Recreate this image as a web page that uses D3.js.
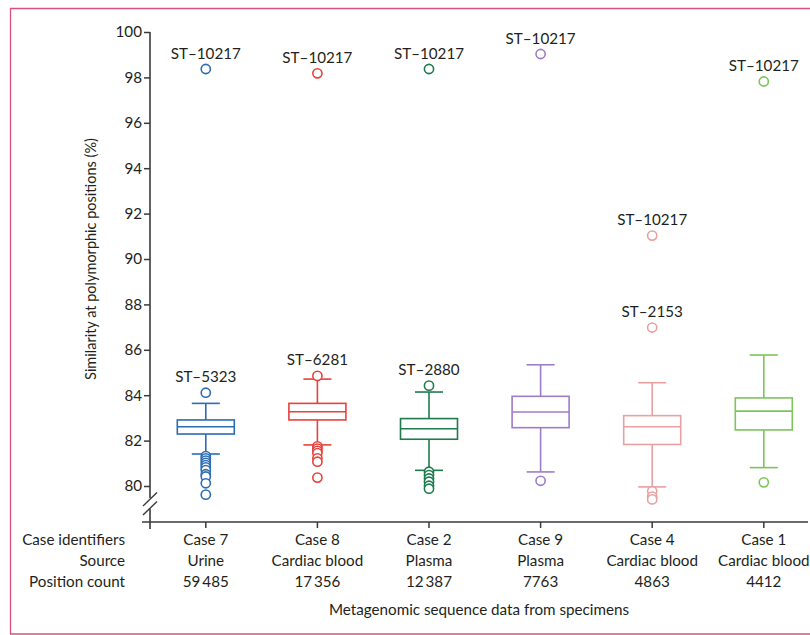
<!DOCTYPE html>
<html>
<head>
<meta charset="utf-8">
<script src="https://cdn.jsdelivr.net/npm/d3@7"></script>
<style>
  html, body { margin: 0; padding: 0; background: #fff; }
  svg { display: block; }
  text { font-family: Lato, "Noto Sans", sans-serif; fill: #231f20; }
</style>
</head>
<body>
<svg id="chart" width="810" height="635"></svg>
<script>
// ---- data ----
const cases = ["Case 7", "Case 8", "Case 2", "Case 9", "Case 4", "Case 1"];
const sources = ["Urine", "Cardiac blood", "Plasma", "Plasma", "Cardiac blood", "Cardiac blood"];
const counts = ["59\u2009485", "17\u2009356", "12\u2009387", "7763", "4863", "4412"];
const q1 = [82.29, 82.91, 82.06, 82.57, 81.83, 82.47];
const medians = [82.61, 83.27, 82.52, 83.26, 82.61, 83.30];
const q3 = [82.91, 83.64, 82.97, 83.95, 83.10, 83.88];
const whiskerLow = [81.41, 81.81, 80.69, 80.62, 79.96, 80.81];
const whiskerHigh = [83.64, 84.71, 84.14, 85.34, 84.55, 85.77];
const outliers = [
  [98.37, 84.11, 81.32, 81.22, 81.12, 81.02, 80.92, 80.82, 80.7, 80.52, 80.42, 80.12, 79.62],
  [98.18, 84.85, 81.75, 81.65, 81.55, 81.45, 81.22, 81.07, 80.37],
  [98.37, 84.42, 80.63, 80.48, 80.33, 80.19, 80.01, 79.88],
  [99.03, 80.23],
  [91.03, 86.98, 79.77, 79.53, 79.41],
  [97.82, 80.16]
];
const outlierLabels = [
  [{v: 98.37, t: "ST\u201310217"}, {v: 84.11, t: "ST\u20135323"}],
  [{v: 98.18, t: "ST\u201310217"}, {v: 84.85, t: "ST\u20136281"}],
  [{v: 98.37, t: "ST\u201310217"}, {v: 84.42, t: "ST\u20132880"}],
  [{v: 99.03, t: "ST\u201310217"}],
  [{v: 91.03, t: "ST\u201310217"}, {v: 86.98, t: "ST\u20132153"}],
  [{v: 97.82, t: "ST\u201310217"}]
];
const yTicks = [80, 82, 84, 86, 88, 90, 92, 94, 96, 98, 100];
const rowLabels = ["Case identifiers", "Source", "Position count"];

// ---- style ----
const colors = ["#2c6cb2", "#e8413b", "#1f7b4c", "#9f7cc6", "#e8a0a1", "#7dc55a"];
const fontSize = 15.2;

const svg = d3.select("#chart");

// frame
svg.append("path")
  .attr("d", "M810,8.5 H10.5 V634 H810")
  .attr("fill", "none").attr("stroke", "#d9507e").attr("stroke-width", 1.3);

const y = d3.scaleLinear().domain([80, 100]).range([486, 32]);
const x = d3.scaleBand().domain(cases).range([150, 819.6]).paddingInner(0).paddingOuter(0);
const cx = d => x(d) + x.bandwidth() / 2;

const axisColor = "#3a3a3a";

// y axis
const yAxis = svg.append("g").attr("transform", "translate(150,0)")
  .call(d3.axisLeft(y).tickValues(yTicks).tickSize(6).tickPadding(2));
yAxis.select(".domain").remove();
yAxis.selectAll(".tick line").attr("stroke", axisColor).attr("stroke-width", 1.5);
yAxis.selectAll(".tick text").attr("font-size", fontSize).attr("fill", "#231f20")
  .style("font-family", "Lato, 'Noto Sans', sans-serif");

// y axis line with break
svg.append("line").attr("x1", 150).attr("x2", 150).attr("y1", y(100)).attr("y2", 498)
  .attr("stroke", axisColor).attr("stroke-width", 1.6);
svg.append("line").attr("x1", 150).attr("x2", 150).attr("y1", 509).attr("y2", 529)
  .attr("stroke", axisColor).attr("stroke-width", 1.6);
[0, 9].forEach(o => {
  svg.append("line").attr("x1", 143).attr("x2", 157)
    .attr("y1", 506 + o).attr("y2", 492.5 + o)
    .attr("stroke", axisColor).attr("stroke-width", 1.4);
});

// x axis
const xAxisY = 522;
const xAxis = svg.append("g").attr("transform", `translate(0,${xAxisY})`)
  .call(d3.axisBottom(x).tickSize(6).tickFormat(""));
xAxis.select(".domain").remove();
xAxis.selectAll(".tick line").attr("stroke", axisColor).attr("stroke-width", 1.5);
svg.append("line").attr("x1", 142).attr("x2", 808).attr("y1", xAxisY).attr("y2", xAxisY)
  .attr("stroke", axisColor).attr("stroke-width", 1.6);

// category labels
const rowsY = [544.5, 565.5, 586.5];
const rows = [cases, sources, counts];
rows.forEach((arr, r) => {
  svg.append("g").selectAll("text").data(arr).join("text")
    .attr("x", (d, i) => cx(cases[i]))
    .attr("y", rowsY[r])
    .attr("text-anchor", "middle")
    .attr("font-size", fontSize)
    .text(d => d);
  svg.append("text").attr("x", 125).attr("y", rowsY[r])
    .attr("text-anchor", "end").attr("font-size", fontSize).text(rowLabels[r]);
});

// axis titles
svg.append("text").attr("x", 479).attr("y", 615).attr("text-anchor", "middle")
  .attr("font-size", fontSize).text("Metagenomic sequence data from specimens");
svg.append("text")
  .attr("transform", "translate(96,259) rotate(-90)")
  .attr("text-anchor", "middle").attr("font-size", fontSize - 0.7)
  .text("Similarity at polymorphic positions (%)");

// boxes
const boxW = 57, capW = 28, sw = 1.6;
cases.forEach((c, i) => {
  const g = svg.append("g").attr("stroke", colors[i]).attr("fill", "none").attr("stroke-width", sw);
  const xc = cx(c);
  // whiskers
  g.append("line").attr("x1", xc).attr("x2", xc).attr("y1", y(q3[i])).attr("y2", y(whiskerHigh[i]));
  g.append("line").attr("x1", xc).attr("x2", xc).attr("y1", y(q1[i])).attr("y2", y(whiskerLow[i]));
  [whiskerHigh[i], whiskerLow[i]].forEach(v => {
    g.append("line").attr("x1", xc - capW / 2).attr("x2", xc + capW / 2).attr("y1", y(v)).attr("y2", y(v));
  });
  g.append("rect").attr("x", xc - boxW / 2).attr("width", boxW)
    .attr("y", y(q3[i])).attr("height", y(q1[i]) - y(q3[i])).attr("fill", "#fff");
  g.append("line").attr("x1", xc - boxW / 2).attr("x2", xc + boxW / 2)
    .attr("y1", y(medians[i])).attr("y2", y(medians[i]));
  // outliers
  g.selectAll("circle").data(outliers[i]).join("circle")
    .attr("cx", xc).attr("cy", d => y(d)).attr("r", 4.6).attr("fill", "#fff");
  // labels
  svg.append("g").selectAll("text").data(outlierLabels[i]).join("text")
    .attr("x", xc).attr("y", d => y(d.v) - 10.5)
    .attr("text-anchor", "middle").attr("font-size", fontSize)
    .text(d => d.t);
});
</script>
</body>
</html>
